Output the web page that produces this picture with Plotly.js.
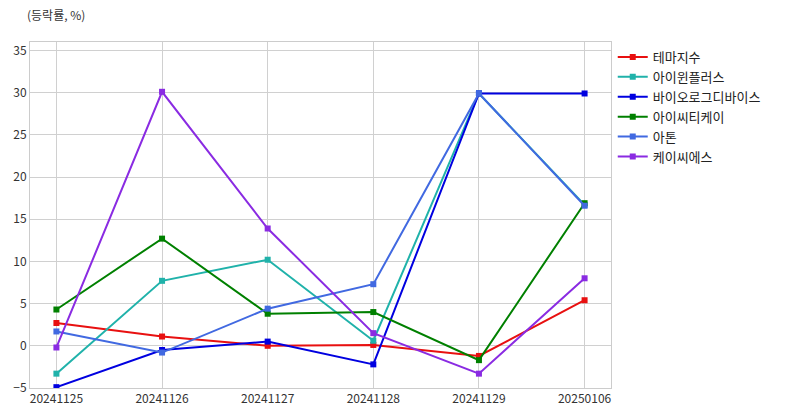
<!DOCTYPE html>
<html><head><meta charset="utf-8">
<script src="https://cdn.plot.ly/plotly-3.0.1.min.js"></script>
<style>body{margin:0;background:#fff}#c{width:795px;height:416px}</style>
</head><body><div id="c"></div>
<script>
const dates = ['20241125','20241126','20241127','20241128','20241129','20250106'];
const names = ['테마지수','아이윈플러스','바이오로그디바이스','아이씨티케이','아톤','케이씨에스'];
const colors = ['#e81010','#20b2aa','#0000e0','#008000','#4169e1','#8a2be2'];
const sTheme = [2.7, 1.1, 0.0, 0.1, -1.2, 5.4];
const sAiwin = [-3.3, 7.7, 10.2, 0.6, 29.9, 16.7];
const sBio = [-4.9, -0.5, 0.5, -2.2, 29.9, 29.9];
const sIctk = [4.3, 12.7, 3.8, 4.0, -1.7, 16.9];
const sAton = [1.7, -0.8, 4.4, 7.3, 29.9, 16.6];
const sKcs = [-0.2, 30.1, 13.9, 1.5, -3.3, 8.0];
const series = [sTheme, sAiwin, sBio, sIctk, sAton, sKcs];
const font = '"Noto Sans CJK KR", "Noto Sans", sans-serif';
const traces = series.map((s, i) => ({
  type: 'scatter', mode: 'lines+markers', name: names[i], x: dates, y: s,
  line: {color: colors[i], width: 2}, marker: {color: colors[i], symbol: 'square', size: 6}
}));
const layout = {
  width: 795, height: 416,
  margin: {l: 30, r: 184, t: 42, b: 28},
  paper_bgcolor: '#fff', plot_bgcolor: '#fff',
  font: {family: font, size: 12, color: '#333'},
  showlegend: true,
  legend: {x: 1.003, y: 1, xanchor: 'left', yanchor: 'top', font: {size: 13, color: '#222'}, tracegroupgap: 0, itemwidth: 30, bgcolor: 'rgba(0,0,0,0)'},
  xaxis: {type: 'category', range: [-0.25, 5.25], showgrid: true, gridcolor: '#d0d0d0', showline: true, linecolor: '#cccccc', linewidth: 1, mirror: true, ticks: '', tickfont: {size: 12, color: '#333'}, zeroline: false, fixedrange: true},
  yaxis: {range: [-5, 36], dtick: 5, tick0: -5, showgrid: true, gridcolor: '#d0d0d0', showline: true, linecolor: '#cccccc', linewidth: 1, mirror: true, ticks: '', tickfont: {size: 12, color: '#333'}, zeroline: false, fixedrange: true},
  annotations: [{text: '(등락률, %)', xref: 'paper', yref: 'paper', x: 0, y: 1, xshift: -5, yshift: 28, xanchor: 'left', yanchor: 'middle', showarrow: false, font: {size: 12, color: '#333'}}]
};
Plotly.newPlot('c', traces, layout, {displayModeBar: false, staticPlot: true});
</script></body></html>
